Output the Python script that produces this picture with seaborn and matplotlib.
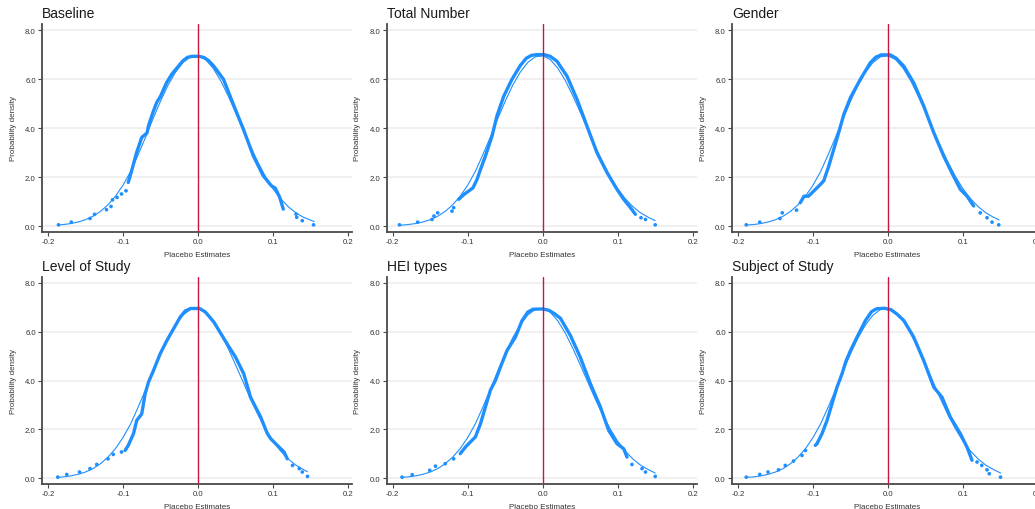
import matplotlib
matplotlib.use("Agg")
import matplotlib.pyplot as plt
import seaborn as sns
import pandas as pd
from matplotlib.ticker import FormatStrFormatter

sns.set_theme(style="white")
plt.rcParams['font.family'] = ['Liberation Sans', 'DejaVu Sans']
plt.rcParams['axes.unicode_minus'] = False

# ---------------- data ----------------
titles = ["Baseline", "Total Number", "Gender",
          "Level of Study", "HEI types", "Subject of Study"]

y_ticks = [0.0, 2.0, 4.0, 6.0, 8.0]
x_ticks = [-0.2, -0.1, 0.0, 0.1, 0.2]

# fitted normal density (shared interior part of the thin curve)
fit_mid_x = [-0.18, -0.17, -0.16, -0.15, -0.14, -0.13, -0.12, -0.11, -0.10, -0.09,
             -0.08, -0.07, -0.06, -0.05, -0.04, -0.03, -0.02, -0.01, 0.00, 0.01,
             0.02, 0.03, 0.04, 0.05, 0.06, 0.07, 0.08, 0.09, 0.10, 0.11,
             0.12, 0.13, 0.14]
fit_mid_y = [0.06, 0.10, 0.165, 0.26, 0.40, 0.60, 0.87, 1.22, 1.67, 2.22,
             2.90, 3.62, 4.38, 5.10, 5.75, 6.28, 6.68, 6.91, 6.95, 6.80,
             6.45, 5.95, 5.33, 4.65, 3.95, 3.25, 2.60, 2.02, 1.52, 1.12,
             0.80, 0.55, 0.37]
fit_start_x = [-0.187, -0.191, -0.189, -0.187, -0.188, -0.189]
fit_start_y = [0.04, 0.03, 0.04, 0.04, 0.04, 0.04]
fit_end_x = [0.155, 0.150, 0.148, 0.146, 0.150, 0.150]
fit_end_y = [0.18, 0.22, 0.25, 0.27, 0.22, 0.22]

# empirical density at placebo estimates (dense central part)
bl_x = [-0.093, -0.088, -0.082, -0.075, -0.070, -0.068, -0.066, -0.060, -0.055, -0.050,
        -0.042, -0.035, -0.028, -0.020, -0.014, -0.008, 0.002, 0.008, 0.014, 0.021,
        0.034, 0.048, 0.0604, 0.0737, 0.087, 0.098, 0.103, 0.109, 0.1137]
bl_y = [1.78, 2.31, 2.99, 3.62, 3.75, 3.80, 4.10, 4.65, 5.05, 5.30,
        5.85, 6.20, 6.46, 6.75, 6.89, 6.93, 6.93, 6.88, 6.76, 6.53,
        5.99, 4.90, 3.96, 2.87, 2.05, 1.64, 1.55, 1.17, 0.69]
tn_x = [-0.112, -0.105, -0.0987, -0.093, -0.0876, -0.083, -0.0764, -0.0676, -0.061, -0.052,
        -0.041, -0.030, -0.022, -0.015, -0.008, 0.002, 0.010, 0.019, 0.0324, 0.0458,
        0.059, 0.0724, 0.0858, 0.099, 0.108, 0.117, 0.1236]
tn_y = [1.09, 1.29, 1.43, 1.56, 1.90, 2.31, 2.86, 3.67, 4.50, 5.30,
        5.99, 6.55, 6.85, 6.97, 7.00, 7.00, 6.93, 6.73, 6.12, 5.17,
        4.08, 2.99, 2.18, 1.50, 1.09, 0.75, 0.48]
gd_x = [-0.117, -0.112, -0.106, -0.099, -0.0924, -0.0858, -0.079, -0.0724, -0.0658, -0.059,
        -0.050, -0.0369, -0.0236, -0.016, -0.009, 0.003, 0.011, 0.021, 0.0342, 0.0476,
        0.061, 0.0742, 0.085, 0.0964, 0.1053, 0.1142]
gd_y = [0.95, 1.22, 1.22, 1.43, 1.63, 1.84, 2.45, 3.13, 3.81, 4.55,
        5.25, 5.99, 6.67, 6.90, 6.99, 6.99, 6.85, 6.53, 5.85, 4.90,
        3.81, 2.86, 2.18, 1.50, 1.22, 0.82]
ls_x = [-0.0973, -0.093, -0.086, -0.0817, -0.075, -0.0705, -0.066, -0.0594, -0.0504, -0.0415,
        -0.0326, -0.0237, -0.017, -0.010, 0.002, 0.010, 0.021, 0.0388, 0.050, 0.061,
        0.070, 0.0835, 0.0924, 0.097, 0.108, 0.1147, 0.119]
ls_y = [1.14, 1.35, 1.83, 2.37, 2.64, 3.46, 3.94, 4.41, 5.10, 5.64,
        6.12, 6.60, 6.85, 6.95, 6.95, 6.80, 6.40, 5.50, 4.96, 4.28,
        3.32, 2.51, 1.83, 1.62, 1.28, 1.08, 0.80]
hei_x = [-0.110, -0.103, -0.0964, -0.0898, -0.083, -0.0764, -0.0698, -0.063, -0.0564, -0.0476,
         -0.0364, -0.0276, -0.020, -0.013, 0.000, 0.008, 0.015, 0.0236, 0.037, 0.050,
         0.0636, 0.0769, 0.088, 0.099, 0.108, 0.1124]
hei_y = [1.01, 1.28, 1.49, 1.69, 2.23, 2.92, 3.60, 4.01, 4.55, 5.23,
         5.78, 6.45, 6.80, 6.92, 6.93, 6.88, 6.75, 6.55, 5.84, 4.96,
         3.87, 2.92, 1.96, 1.42, 1.21, 0.87]
ss_x = [-0.097, -0.0947, -0.088, -0.0813, -0.0747, -0.068, -0.0613, -0.056, -0.050, -0.0413,
        -0.030, -0.022, -0.015, -0.005, 0.004, 0.012, 0.021, 0.0342, 0.0476, 0.061,
        0.072, 0.083, 0.0964, 0.1053, 0.112]
ss_y = [1.35, 1.42, 1.83, 2.37, 3.05, 3.73, 4.28, 4.80, 5.23, 5.78,
        6.46, 6.82, 6.94, 6.96, 6.90, 6.72, 6.46, 5.78, 4.82, 3.73,
        3.32, 2.51, 1.83, 1.28, 0.74]

# sparse tail points
bl_tx = [-0.186, -0.169, -0.144, -0.138, -0.122, -0.116, -0.114, -0.108, -0.102, -0.096,
         0.1307, 0.1316, 0.139, 0.154]
bl_ty = [0.05, 0.16, 0.31, 0.48, 0.67, 0.80, 1.07, 1.17, 1.31, 1.44,
         0.49, 0.36, 0.22, 0.05]
tn_tx = [-0.191, -0.1667, -0.1476, -0.145, -0.140, -0.121, -0.1187, 0.131, 0.137, 0.150]
tn_ty = [0.05, 0.16, 0.27, 0.41, 0.54, 0.61, 0.75, 0.34, 0.27, 0.05]
gd_tx = [-0.189, -0.171, -0.144, -0.141, -0.122, 0.123, 0.132, 0.1387, 0.1476]
gd_ty = [0.05, 0.16, 0.31, 0.54, 0.65, 0.54, 0.34, 0.16, 0.05]
ls_tx = [-0.187, -0.175, -0.158, -0.144, -0.135, -0.120, -0.113, -0.102,
         0.126, 0.135, 0.139, 0.146]
ls_ty = [0.05, 0.16, 0.26, 0.40, 0.57, 0.80, 0.98, 1.08,
         0.53, 0.40, 0.26, 0.08]
hei_tx = [-0.1876, -0.174, -0.1507, -0.143, -0.130, -0.1187, 0.119, 0.1324, 0.137, 0.150]
hei_ty = [0.05, 0.15, 0.33, 0.50, 0.60, 0.80, 0.57, 0.40, 0.26, 0.08]
ss_tx = [-0.189, -0.171, -0.160, -0.146, -0.137, -0.126, -0.1147, -0.110,
         0.1187, 0.125, 0.132, 0.135, 0.150]
ss_ty = [0.05, 0.16, 0.26, 0.35, 0.53, 0.71, 0.94, 1.14,
         0.67, 0.53, 0.35, 0.19, 0.05]

dense_x = [bl_x, tn_x, gd_x, ls_x, hei_x, ss_x]
dense_y = [bl_y, tn_y, gd_y, ls_y, hei_y, ss_y]
tail_x = [bl_tx, tn_tx, gd_tx, ls_tx, hei_tx, ss_tx]
tail_y = [bl_ty, tn_ty, gd_ty, ls_ty, hei_ty, ss_ty]

# ---------------- drawing ----------------
BLUE = "#1f8ffd"
RED = "#c8163c"
SPINE = "#4a4a4a"

W, H = 1035, 510
fig = plt.figure(figsize=(W / 100, H / 100), dpi=100)
fig.patch.set_facecolor("white")

col_left = [42, 386.7, 732]
row_span = [(25, 232.7), (277.7, 485)]
axw = 310

for i, title in enumerate(titles):
    r, c = divmod(i, 3)
    top, bot = row_span[r]
    ax = fig.add_axes([col_left[c] / W, (H - bot) / H, axw / W, (bot - top) / H])
    ax.set_facecolor("white")

    keep = [(v, fy) for v, fy in zip(fit_mid_x, fit_mid_y)
            if fit_start_x[i] < v < fit_end_x[i]]
    fit_df = pd.DataFrame({
        "x": [fit_start_x[i]] + [k[0] for k in keep] + [fit_end_x[i]],
        "y": [fit_start_y[i]] + [k[1] for k in keep] + [fit_end_y[i]],
    })
    sns.lineplot(data=fit_df, x="x", y="y", ax=ax, color=BLUE, lw=0.8,
                 estimator=None, sort=True)

    dd = pd.DataFrame({"x": dense_x[i], "y": dense_y[i]})
    sns.lineplot(data=dd, x="x", y="y", ax=ax, color=BLUE, lw=2.4,
                 estimator=None, sort=True, solid_capstyle="round",
                 solid_joinstyle="round")

    td = pd.DataFrame({"x": tail_x[i], "y": tail_y[i]})
    sns.scatterplot(data=td, x="x", y="y", ax=ax, color=BLUE, s=7,
                    edgecolor="none", linewidth=0)

    ax.axvline(0, color=RED, lw=1.0, zorder=5)

    ax.set_xlim(-0.208, 0.2053)
    ax.set_ylim(-0.23, 8.25)
    ax.set_xticks(x_ticks)
    ax.set_yticks(y_ticks)
    ax.xaxis.set_major_formatter(FormatStrFormatter("%.1f"))
    ax.yaxis.set_major_formatter(FormatStrFormatter("%.1f"))

    ax.yaxis.grid(True, color="#efefef", lw=1.3)
    ax.xaxis.grid(False)
    ax.set_axisbelow(True)

    for s in ["top", "right"]:
        ax.spines[s].set_visible(False)
    for s in ["left", "bottom"]:
        ax.spines[s].set_color(SPINE)
        ax.spines[s].set_linewidth(1.3)

    ax.tick_params(axis="both", which="major", direction="out", length=3,
                   width=0.8, color=SPINE, labelsize=5.6, labelcolor="#333333",
                   pad=1.5, bottom=True, left=True)

    ax.set_xlabel("Placebo Estimates", fontsize=5.8, color="#333333", labelpad=4)
    ax.set_ylabel("Probability density", fontsize=5.8, color="#333333", labelpad=6)
    ax.set_title(title, loc="left", fontsize=10, color="#1a1a1a", pad=5)

fig.savefig("out.png", dpi=100, facecolor="white")
